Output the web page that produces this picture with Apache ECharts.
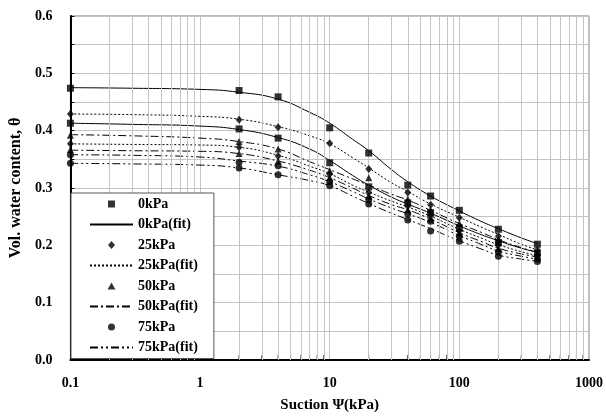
<!DOCTYPE html>
<html>
<head>
<meta charset="utf-8">
<script src="https://cdn.jsdelivr.net/npm/echarts@6/dist/echarts.min.js"></script>
<style>
  html, body { margin: 0; padding: 0; background: #fff; }
  #chart { width: 606px; height: 418px; }
</style>
</head>
<body>
<div id="chart"></div>
<script>
// Measured points: suction (kPa) and volumetric water content for each net stress
const suction = [0.1, 2, 4, 10, 20, 40, 60, 100, 200, 400];
const theta0A  = [0.474, 0.470, 0.459, 0.405, 0.361, 0.305, 0.286, 0.261, 0.228, 0.202];
const theta0B  = [0.413, 0.403, 0.387, 0.344, 0.302, 0.274, 0.257, 0.230, 0.205, 0.186];
const theta25A = [0.429, 0.419, 0.406, 0.378, 0.333, 0.292, 0.271, 0.248, 0.216, 0.192];
const theta25B = [0.377, 0.371, 0.356, 0.324, 0.292, 0.268, 0.251, 0.225, 0.200, 0.183];
const theta50A = [0.392, 0.381, 0.368, 0.330, 0.318, 0.281, 0.262, 0.238, 0.210, 0.188];
const theta50B = [0.367, 0.360, 0.347, 0.318, 0.286, 0.262, 0.246, 0.220, 0.194, 0.180];
const theta75A = [0.358, 0.345, 0.339, 0.311, 0.280, 0.255, 0.242, 0.216, 0.189, 0.176];
const theta75B = [0.343, 0.335, 0.323, 0.304, 0.272, 0.244, 0.225, 0.207, 0.181, 0.172];

// Fitted curves sampled along the suction axis
const fitSuction = [0.1, 0.3, 1, 2, 4, 7, 10, 15, 20, 30, 40, 60, 100, 150, 200, 300, 400];
const fit0A  = [0.475, 0.474, 0.472, 0.467, 0.455, 0.432, 0.413, 0.385, 0.365, 0.332, 0.311, 0.286, 0.260, 0.241, 0.229, 0.213, 0.203];
const fit0B  = [0.413, 0.411, 0.408, 0.402, 0.388, 0.368, 0.348, 0.322, 0.305, 0.284, 0.272, 0.256, 0.234, 0.218, 0.208, 0.195, 0.188];
const fit25A = [0.429, 0.428, 0.425, 0.420, 0.407, 0.391, 0.377, 0.353, 0.335, 0.309, 0.294, 0.272, 0.249, 0.231, 0.219, 0.202, 0.192];
const fit25B = [0.377, 0.376, 0.375, 0.371, 0.357, 0.338, 0.325, 0.305, 0.293, 0.277, 0.267, 0.251, 0.228, 0.212, 0.201, 0.189, 0.182];
const fit50A = [0.393, 0.391, 0.387, 0.381, 0.368, 0.346, 0.332, 0.316, 0.305, 0.289, 0.279, 0.261, 0.238, 0.222, 0.210, 0.196, 0.188];
const fit50B = [0.366, 0.365, 0.364, 0.360, 0.347, 0.331, 0.318, 0.300, 0.287, 0.271, 0.262, 0.246, 0.222, 0.206, 0.195, 0.185, 0.180];
const fit75A = [0.358, 0.357, 0.354, 0.347, 0.338, 0.323, 0.311, 0.294, 0.281, 0.265, 0.255, 0.240, 0.217, 0.201, 0.190, 0.181, 0.176];
const fit75B = [0.343, 0.342, 0.340, 0.335, 0.323, 0.313, 0.304, 0.286, 0.273, 0.256, 0.245, 0.229, 0.208, 0.193, 0.183, 0.176, 0.172];

const legendNames = ['0kPa', '0kPa(fit)', '25kPa', '25kPa(fit)', '50kPa', '50kPa(fit)', '75kPa', '75kPa(fit)'];
const xTickLabels = { 0.1: '0.1', 1: '1', 10: '10', 100: '100', 1000: '1000' };

// Intermediate log-decade positions (2..9 in each decade)
const minorSuction = [];
[0.1, 1, 10, 100].forEach(d => { for (let k = 2; k <= 9; k++) minorSuction.push(+(d * k).toPrecision(3)); });

const pairs = (xs, ys) => xs.map((x, i) => [x, ys[i]]);
const FONT = '"Liberation Serif", "Times New Roman", serif';

function points(name, ys, symbol, size) {
  return {
    name, type: 'scatter', data: pairs(suction, ys), symbol, symbolSize: size,
    itemStyle: { color: '#000' }, z: 5, clip: false
  };
}
function fit(name, ys, dash) {
  return {
    name, type: 'line', data: pairs(fitSuction, ys), smooth: true, symbol: 'none',
    lineStyle: { color: '#000', width: 1, type: dash }, itemStyle: { color: '#000' }, z: 4
  };
}

const DOT = [2, 2];
const DASHDOT = [8, 3, 2, 3];
const DASHDOTDOT = [8, 3, 2, 3, 2, 3];

// Legend glyphs: small marker centred in a 43x8 box (leading moves fix the box size)
const BOX = 'path://M0,0M43,8';
const markerIcons = {
  '0kPa': BOX + 'M18,0.5h7v7h-7Z',
  '25kPa': BOX + 'M21.5,0L25,4L21.5,8L18,4Z',
  '50kPa': BOX + 'M21.5,0.5L25.5,7.5L17.5,7.5Z',
  '75kPa': BOX + 'M25,4A3.5,3.5,0,1,1,18,4A3.5,3.5,0,1,1,25,4Z'
};
const legendData = legendNames.map(n => markerIcons[n]
  ? { name: n, icon: markerIcons[n] }
  : { name: n, itemStyle: { color: 'rgba(0,0,0,0)', borderColor: 'rgba(0,0,0,0)', borderWidth: 0, opacity: 0 } });

const chart = echarts.init(document.getElementById('chart'), null, { renderer: 'canvas' });
chart.setOption({
  animation: false,
  backgroundColor: '#fff',
  grid: { left: 66, right: 16, top: 16, bottom: 57, show: true, borderColor: '#777', borderWidth: 1 },
  legend: {
    data: legendData,
    orient: 'vertical',
    left: 71, top: 193,
    padding: [4, 16, 4, 18],
    itemWidth: 43, itemHeight: 8, itemGap: 6.5,
    backgroundColor: '#fff',
    borderColor: '#555', borderWidth: 1,
    textStyle: { fontFamily: FONT, fontWeight: 'bold', fontSize: 14, color: '#000', lineHeight: 14 },
    z: 10
  },
  xAxis: {
    type: 'log', logBase: 10, min: 0.1, max: 1000,
    name: 'Suction \u03A8(kPa)', nameLocation: 'middle', nameGap: 38,
    nameTextStyle: { fontFamily: FONT, fontWeight: 'bold', fontSize: 15, color: '#000' },
    axisLine: { show: true, onZero: false, lineStyle: { color: '#000', width: 2 } },
    axisTick: { show: false },
    axisLabel: {
      margin: 16, fontFamily: FONT, fontWeight: 'bold', fontSize: 14, color: '#000',
      formatter: v => xTickLabels[+v.toPrecision(3)] || ''
    },
    splitLine: { show: true, lineStyle: { color: '#c4c4c4', width: 1 } }
  },
  yAxis: {
    type: 'value', min: 0, max: 0.6, interval: 0.05,
    name: 'Vol. water content, \u03B8', nameLocation: 'middle', nameGap: 42,
    nameTextStyle: { fontFamily: FONT, fontWeight: 'bold', fontSize: 16, color: '#000' },
    axisLine: { show: true, lineStyle: { color: '#000', width: 2 } },
    axisTick: { show: true, inside: true, length: 4, lineStyle: { color: '#000' } },
    axisLabel: {
      margin: 18, fontFamily: FONT, fontWeight: 'bold', fontSize: 14, color: '#000',
      formatter: v => (Math.round(v * 100) % 10 === 0 ? v.toFixed(1) : '')
    },
    splitLine: { show: true, lineStyle: { color: '#c4c4c4', width: 1 } }
  },
  series: [
    // minor decade ticks along the bottom axis, with their vertical grid lines
    {
      name: 'minor', type: 'scatter', silent: true, z: 1, clip: false,
      data: minorSuction.map(x => [x, 0]),
      symbol: 'rect', symbolSize: [1, 5], symbolOffset: [0, -2.5],
      itemStyle: { color: '#000' },
      markLine: {
        silent: true, symbol: ['none', 'none'], label: { show: false },
        lineStyle: { color: '#c4c4c4', width: 1, type: 'solid' },
        data: minorSuction.map(x => ({ xAxis: x }))
      }
    },
    fit('0kPa(fit)', fit0A, 'solid'),
    fit('0kPa(fit)', fit0B, 'solid'),
    fit('25kPa(fit)', fit25A, DOT),
    fit('25kPa(fit)', fit25B, DOT),
    fit('50kPa(fit)', fit50A, DASHDOT),
    fit('50kPa(fit)', fit50B, DASHDOT),
    fit('75kPa(fit)', fit75A, DASHDOTDOT),
    fit('75kPa(fit)', fit75B, DASHDOTDOT),
    points('0kPa', theta0A, 'rect', 7),
    points('0kPa', theta0B, 'rect', 7),
    points('25kPa', theta25A, 'diamond', [7, 8]),
    points('25kPa', theta25B, 'diamond', [7, 8]),
    points('50kPa', theta50A, 'triangle', 7),
    points('50kPa', theta50B, 'triangle', 7),
    points('75kPa', theta75A, 'circle', 7),
    points('75kPa', theta75B, 'circle', 7)
  ]
});
</script>
</body>
</html>
